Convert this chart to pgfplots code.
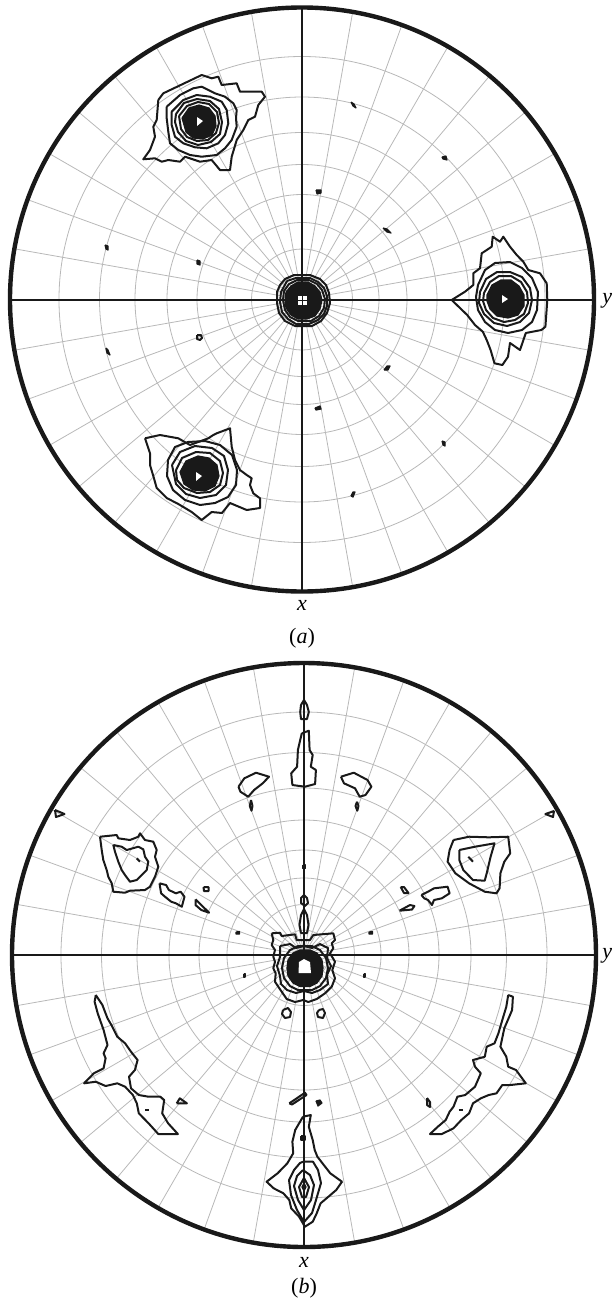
\documentclass[border=0pt]{standalone}
\usepackage{pgfplots}
\pgfplotsset{compat=1.18}
\usepgfplotslibrary{polar}
\usepackage{fontspec}
\setmainfont{Liberation Serif}
\pgfplotsset{
  ct/.style={black!90, line width=1pt, line join=round, mark=none},
  fl/.style={black!90, fill=black!90, line width=0.6pt, line join=round, mark=none},
  wf/.style={draw=none, fill=white, mark=none},
  ax/.style={black!90, line width=1pt, mark=none},
  pgrid/.style={
    anchor=center, scale only axis, width=292pt, height=292pt,
    xmin=0, xmax=360, ymin=0, ymax=292,
    xtick={0,10,...,350},
    ytick={25,50.5,77,105,135,167,202.5,243},
    xticklabels={}, yticklabels={},
    major tick length=0pt,
    grid=major,
    major grid style={black!28, line width=0.4pt},
    x axis line style={line width=2.2pt, black!90},
    y axis line style={draw=none},
  },
  dax/.style={anchor=center, scale only axis, width=292pt, height=292pt,
    y dir=reverse, hide axis, clip=false},
}
\begin{document}
\begin{tikzpicture}
% ---------------- (a) ----------------
\begin{polaraxis}[pgrid, at={(151pt,-149.75pt)}]
\end{polaraxis}
\begin{axis}[dax, at={(151pt,-149.75pt)}, xmin=10, xmax=594, ymin=7.5, ymax=591.5]
\addplot[ax] coordinates {(10,299.5) (596,299.5)};
\addplot[ax] coordinates {(302,7.5) (302,591.5)};
% top-left pole
\addplot[ct] coordinates {(158.3,100) (163.3,93.3) (201.7,75) (211.7,78.3) (218.3,76.7) (221.7,85) (236.7,83.3) (240,91.7) (261.7,91.7) (265,96.7) (258.3,105) (255,116.7) (248.3,120) (243.3,130) (236.7,140) (231.7,156.7) (230,170) (220,170) (211.7,160) (200,161.7) (185,156.7) (180,161.7) (168.3,160) (161.7,161.7) (155,158.3) (143.3,159.3) (150,150) (155,136.7) (153.3,126.7) (156.7,120) (158.3,100)};
\addplot[ct] coordinates {(166.7,106.7) (180,95) (193.3,88.3) (201.7,86.7) (215,93.3) (225,96.7) (233.3,103.3) (236.7,110) (236,118.3) (236.7,126.7) (231.7,140) (225,148.3) (216.7,155) (201.7,156.7) (190,155) (178.3,150) (170,143.3) (168.3,131.7) (166.7,118.3) (166.7,106.7)};
\addplot[ct] coordinates {(171.7,111.7) (183.3,100) (196.7,95) (210,96.7) (221.7,101.7) (226.7,110) (228.3,123.3) (225,135) (218.3,143.3) (206.7,148.3) (195,147.3) (183.3,143.3) (175,136.7) (171.7,125) (171.7,111.7)};
\addplot[ct] coordinates {(176,114) (184,103) (197,99) (210,101) (219,109) (222,122) (220,134) (211,142) (198,145) (186,141) (178,132) (175,122) (176,114)};
\addplot[ct] coordinates {(179,116) (187,106) (198,102) (209,104) (217,112) (219,123) (216,133) (208,140) (197,141) (187,137) (181,129) (179,116)};
\addplot[fl] coordinates {(182,118) (189,108) (199,105) (209,108) (215,116) (216,126) (212,135) (203,139) (193,138) (186,132) (182,118)};
\addplot[wf] coordinates {(197,117) (203,121) (197,126) (197,117)};
% right pole
\addplot[ct] coordinates {(451.7,300) (465,291.7) (473.3,285) (473.3,273.3) (480,268.3) (481.7,253.3) (491.7,246.7) (492.7,236.7) (500,241.7) (503.3,236.7) (510,246.7) (516.7,255) (523.3,261.7) (528.3,270) (540,273.3) (546.7,283.3) (547.3,300) (545.4,326.7) (541.4,330) (525.8,333) (520,350) (510,343) (508,356.7) (502.4,365) (494.5,363.3) (490.6,350) (486.7,340) (482.8,331.7) (475,325) (467.2,315) (451.7,300)};
\addplot[ct] coordinates {(478,285) (485,270) (495,263) (510,262) (522,268) (532,278) (538,292) (537,310) (532,322) (522,330) (508,333) (495,330) (485,322) (478,310) (476,297) (478,285)};
\addplot[ct] coordinates {(480,292) (486,279) (497,272) (510,272) (522,277) (530,288) (532,300) (529,313) (520,322) (507,326) (494,323) (484,314) (479,303) (480,292)};
\addplot[ct] coordinates {(484,293) (490,282) (499,276) (511,276) (521,282) (527,292) (528,303) (524,314) (515,320) (504,322) (493,318) (486,310) (483,301) (484,293)};
\addplot[fl] coordinates {(487,295) (492,285) (501,280) (511,280) (519,286) (524,295) (524,306) (518,315) (508,318) (497,316) (490,309) (487,301) (487,295)};
\addplot[wf] coordinates {(502,295) (508,299) (502,303) (502,295)};
% bottom-left pole
\addplot[ct] coordinates {(145,438.3) (160,435) (178.3,438.3) (190,445) (208.3,438.3) (213.3,435) (216.7,433.3) (230,428.3) (231.7,446.7) (235,460) (240,470) (246.7,475) (251.7,478.3) (250,485) (253.3,493.3) (260,498.3) (260,508) (246.7,510) (230,503) (222,513) (211.7,512) (201.7,520) (191.7,512) (178.3,504) (166.7,498) (156.7,488) (153.3,476) (150,465) (150,453.3) (145,438.3)};
\addplot[ct] coordinates {(168,460) (175,447) (188,442) (205,441) (220,445) (232,455) (237,470) (236,485) (228,497) (215,503) (200,505) (185,500) (173,490) (167,476) (168,460)};
\addplot[ct] coordinates {(172,465) (180,452) (195,446) (212,448) (224,456) (228,470) (226,485) (216,495) (200,498) (186,494) (176,484) (172,465)};
\addplot[ct] coordinates {(176,470) (182,458) (196,452) (210,453) (220,461) (223,473) (220,485) (210,492) (197,493) (184,488) (177,480) (176,470)};
\addplot[fl] coordinates {(180,472) (186,461) (198,456) (209,458) (217,465) (219,476) (215,486) (205,491) (193,490) (184,484) (180,472)};
\addplot[wf] coordinates {(196,472) (202,476) (196,481) (196,472)};
% centre
\addplot[ct] coordinates {(285,279) (294,275) (310,275) (320,279) (326,285) (329,293) (330,303) (327,313) (321,321) (312,326) (295,326) (285,321) (279,313) (277,303) (277,292) (280,285) (285,279)};
\addplot[ct] coordinates {(287,281) (296,278) (310,278) (318,282) (324,288) (327,296) (327,306) (324,314) (318,320) (309,324) (296,324) (288,319) (282,312) (280,302) (281,292) (287,281)};
\addplot[ct] coordinates {(289,284) (297,280) (309,280) (317,284) (322,290) (325,299) (324,308) (319,316) (311,321) (298,321) (290,317) (285,310) (283,300) (284,291) (289,284)};
\addplot[fl] coordinates {(291,286) (298,282) (308,282) (315,286) (320,292) (322,300) (320,309) (315,316) (307,319) (298,319) (291,315) (286,308) (285,300) (286,292) (291,286)};
\addplot[only marks, mark=square*, mark size=0.7pt, white] coordinates {(299.5,297.5) (304.5,297.5) (299.5,302.5) (304.5,302.5)};
% specks
\addplot[fl] coordinates {(351,102) (354,104) (356,108) (353,106) (351,102)};
\addplot[fl] coordinates {(442,157) (446,156) (447,160) (443,159) (442,157)};
\addplot[fl] coordinates {(316,190) (321,190) (321,193) (317,194) (316,190)};
\addplot[fl] coordinates {(383,228) (387,229) (391,233) (387,232) (383,228)};
\addplot[fl] coordinates {(105,245) (108,246) (108,250) (106,249) (105,245)};
\addplot[fl] coordinates {(197,260) (200,261) (200,265) (197,264) (197,260)};
\addplot[ct] coordinates {(197,335) (201,335) (202,338) (200,340) (197,339) (197,335)};
\addplot[fl] coordinates {(106,348) (108,350) (110,355) (107,353) (106,348)};
\addplot[fl] coordinates {(384,370) (387,366) (390,366) (388,370) (384,370)};
\addplot[fl] coordinates {(315,408) (320,406) (321,409) (316,410) (315,408)};
\addplot[fl] coordinates {(442,441) (445,442) (445,446) (443,445) (442,441)};
\addplot[fl] coordinates {(351,496) (353,492) (355,492) (353,497) (351,496)};
\end{axis}
% ---------------- (b) ----------------
\begin{polaraxis}[pgrid, at={(152pt,-477.5pt)}]
\end{polaraxis}
\begin{axis}[dax, at={(152pt,-477.5pt)}, xmin=12, xmax=596, ymin=663, ymax=1247]
\addplot[ax] coordinates {(12,955) (597,955)};
\addplot[ax] coordinates {(304,663) (304,1247)};
% upper axis blobs
\addplot[ct] coordinates {(304,700) (307,705) (308.8,712) (307,719) (301,719) (300.2,712) (301,705) (304,700)};
\addplot[ct] coordinates {(301.8,733.3) (308.8,730.7) (309.6,750) (312.7,755) (310.8,766.7) (315.9,770) (315.1,784) (304.9,786.7) (292.4,785) (291.2,773.3) (297.1,766.7) (297.9,750) (300.2,740) (301.8,733.3)};
\addplot[ct] coordinates {(238.5,786.7) (244.3,778.3) (256,772.7) (269,776.7) (262.7,783.3) (254.1,790) (248.2,796.7) (240.4,791.7) (238.5,786.7)};
\addplot[ct] coordinates {(251,800) (252.5,806) (251.5,810.7) (249.8,806) (251,800)};
\addplot[ct] coordinates {(340.9,776.7) (353.8,772.7) (367.5,780) (371.4,786.7) (365.5,795) (359.7,796.7) (355,788.3) (344,783.3) (340.9,776.7)};
\addplot[ct] coordinates {(357,801.7) (358.5,806) (357.3,810.7) (355.5,806) (357,801.7)};
% left upper blob
\addplot[ct] coordinates {(100,836.7) (116.7,835) (118.3,838.3) (130,840) (138.3,836.7) (140,833.3) (145,840) (153.3,841.7) (156.7,850) (155,856.7) (158.3,866.7) (155,876.7) (150,886.7) (145,890) (130,890.7) (125,892.7) (113.3,891.7) (111.7,883.3) (108.3,876.7) (106.7,870) (103.3,860) (101.7,850) (100,836.7)};
\addplot[ct] coordinates {(113.3,845) (121.7,846.7) (126.7,850) (138.3,846.7) (143.3,849.3) (145,856.7) (148.3,861.7) (146.7,870) (140,876.7) (136.7,880) (130,881.7) (125,875) (121.7,870) (118.3,861.7) (115,851.7) (113.3,845)};
\addplot[ct] coordinates {(136.7,858.3) (140,861.7)};
% right upper blob
\addplot[ct] coordinates {(453.5,840) (469.1,836.7) (488.7,837.3) (508.2,836.7) (510.2,853.3) (504.3,861.7) (500.4,873.3) (499.6,888.3) (496.5,893.3) (484.8,891.7) (469.1,883.3) (455.4,873.3) (447.6,861.7) (449.6,850) (453.5,840)};
\addplot[ct] coordinates {(459.3,850) (475,846.7) (494.5,843.3) (490.6,856.7) (486.7,873.3) (484.7,880.7) (473,880) (463.3,870) (459.3,860) (459.3,850)};
\addplot[ct] coordinates {(468.3,856.7) (473,861.7)};
% small blobs near the upper blobs
\addplot[ct] coordinates {(159.5,883.3) (166.1,885) (168.9,890) (175.9,893.3) (180.6,891.7) (184.5,896.7) (181.8,906.7) (175.9,903.3) (171.2,901.7) (165,896.7) (161.1,893.3) (159.5,883.3)};
\addplot[ct] coordinates {(203.5,887) (208.5,887) (208.5,891) (204,891) (203.5,887)};
\addplot[ct] coordinates {(195.5,899.3) (201.3,905) (209.1,912.7) (201.3,910) (195.5,905) (195.5,899.3)};
\addplot[ct] coordinates {(400.7,887) (404,887) (408.5,893) (404,893) (400.7,887)};
\addplot[ct] coordinates {(399.5,910.7) (410,905) (414.4,906) (412,909.5) (399.5,910.7)};
\addplot[ct] coordinates {(421.4,895) (428,891.7) (434,888.3) (447.6,886.7) (449.6,893.3) (441.8,898.3) (434,900) (432,905) (428,900) (424.2,898.3) (421.4,895)};
\addplot[ct] coordinates {(55,810) (64.5,814) (56,817) (55,810)};
\addplot[ct] coordinates {(554,811) (545.4,814) (553,817) (554,811)};
\addplot[fl] coordinates {(236,932) (239.5,931.5) (239.5,934) (236,934) (236,932)};
\addplot[fl] coordinates {(369,932) (372.5,931.5) (372.5,934) (369,934) (369,932)};
\addplot[fl] coordinates {(243.5,973.5) (245,973.5) (245,977) (243.5,977) (243.5,973.5)};
\addplot[fl] coordinates {(363.5,973.5) (365,973.5) (365,977) (363.5,977) (363.5,973.5)};
\addplot[fl] coordinates {(302.5,865) (305.5,865) (305.5,868.5) (302.5,868.5) (302.5,865)};
% centre
\addplot[ct] coordinates {(304,895) (307,898) (308,903) (305,906) (301,903) (301,898) (304,895)};
\addplot[ct] coordinates {(304,909) (307,915) (308.5,925) (307,933) (301,933) (299.5,925) (301,915) (304,909)};
\addplot[ct] coordinates {(271.7,933.3) (280,932.7) (281.7,936) (295,934.3) (296.7,940) (310,940) (313.3,935) (333.3,933.3) (335,940) (331.7,943.3) (333.3,948.3) (330,953.3) (335,961.7) (332.3,970) (335,978.3) (331.7,986.7) (325,993.3) (316.7,999) (308.3,1002) (303.3,1000) (295,1002) (286.7,999) (281.7,991.7) (278.3,986.7) (275,981.7) (275.7,973.3) (273.3,968.3) (275,961.7) (273.3,956.7) (275,950) (271.7,945) (273.3,940) (271.7,933.3)};
\addplot[ct] coordinates {(280,946) (290,944) (296,948) (304,946) (312,948) (320,944) (328,948) (327,958) (331,966) (327,975) (328,984) (320,990) (312,993) (304,991) (296,993) (287,990) (281,984) (280,976) (277,966) (280,957) (280,946)};
\addplot[ct] coordinates {(290,950) (298,946) (312,946) (320,950) (326,958) (328,968) (326,978) (320,986) (312,990) (298,990) (290,986) (284,978) (282,968) (284,958) (290,950)};
\addplot[fl] coordinates {(293,953) (300,950) (310,950) (317,953) (322,960) (323,968) (322,976) (317,983) (310,986.5) (300,986.5) (293,983) (288,976) (287,968) (288,960) (293,953)};
\addplot[wf] coordinates {(299,962) (304,959) (310,962) (311,973) (298.5,973) (299,962)};
\addplot[ct] coordinates {(283,1010) (288,1008) (291,1012) (290,1017) (285,1018) (282,1014) (283,1010)};
\addplot[ct] coordinates {(319,1010) (323,1009) (325,1013) (323,1018) (318,1017) (317,1013) (319,1010)};
% lower axis
\addplot[ct] coordinates {(289.3,1103.3) (305,1092.7) (306.5,1095) (292,1104.5) (289.3,1103.3)};
\addplot[fl] coordinates {(316,1101) (320,1100) (322,1103) (318,1106) (316,1101)};
\addplot[ct] coordinates {(303,1116.7) (310.8,1115) (308.8,1126.7) (312.7,1140) (314.7,1150) (317.4,1156.7) (322.5,1163.3) (330.3,1173.3) (342,1181.7) (336.2,1190) (328.4,1196.7) (320.6,1203.3) (316.7,1213.3) (312.7,1221.7) (304.9,1226.7) (299.1,1216.7) (291.2,1208.3) (289.3,1200) (283.4,1193.3) (273.7,1188.3) (266.6,1181.7) (277.6,1173.3) (287.3,1163.3) (293.2,1153.3) (292.4,1141.7) (295.2,1130) (299.1,1123.3) (303,1116.7)};
\addplot[ct] coordinates {(303,1161.7) (313,1161.7) (318,1170) (321,1183) (316,1200) (312,1213) (304,1222) (297,1210) (291,1195) (289,1180) (294,1170) (300,1163) (303,1161.7)};
\addplot[ct] coordinates {(303,1170) (310,1175) (314,1185) (311,1200) (304,1210) (298,1200) (294,1186) (297,1176) (303,1170)};
\addplot[ct] coordinates {(304,1178) (309,1187) (306,1197) (302,1197) (299,1187) (304,1178)};
\addplot[fl] coordinates {(304,1183) (306,1187) (304,1191) (302,1187) (304,1183)};
\addplot[fl] coordinates {(301,1136) (305,1136) (305,1140) (301,1140) (301,1136)};
% left lower blob
\addplot[ct] coordinates {(95.8,995) (102.4,1005) (107.5,1018.3) (111.4,1025) (117.3,1036.7) (125.1,1043.3) (131,1051.7) (137.6,1060) (134.9,1070) (129,1076.7) (131,1088.3) (138.8,1095) (148.6,1096.7) (160.3,1096.7) (164.2,1100) (162.2,1113.3) (168.1,1123.3) (177.9,1134) (158.3,1134) (148.6,1123.3) (138.8,1113.3) (136.8,1103.3) (132.9,1095) (125.1,1086.7) (117.3,1083.3) (105.6,1086) (95.8,1081.7) (84.1,1083.3) (93.8,1073.3) (103.6,1068.3) (105.6,1058.3) (103.6,1053.3) (107.5,1045) (103.6,1030) (97.7,1013.3) (94.6,1001.7) (95.8,995)};
\addplot[ct] coordinates {(145,1110) (149,1110)};
\addplot[ct] coordinates {(176.7,1103.3) (179.8,1098.3) (186.9,1103.3) (176.7,1103.3)};
% right lower blob
\addplot[ct] coordinates {(508.2,995) (512.9,996.7) (512.1,1010) (504.3,1028.3) (500.4,1046.7) (506.3,1056.7) (508.2,1066.7) (516,1070) (525.8,1083.3) (510.2,1085) (502.3,1085) (496.5,1093.3) (488.7,1095) (480.8,1098.3) (473,1103.3) (469.1,1113.3) (461.3,1120) (453.5,1128.3) (441.8,1134) (430,1134) (437.8,1126.7) (445.7,1120) (449.6,1111.7) (453.5,1106.7) (457.4,1096.7) (465.2,1095) (475,1086.7) (480.8,1073.3) (475,1066.7) (473,1060) (484.8,1056.7) (486.7,1046.7) (494.5,1043.3) (498.4,1033.3) (502.3,1020) (506.3,1006.7) (508.2,995)};
\addplot[ct] coordinates {(458.5,1110) (462.5,1110)};
\addplot[ct] coordinates {(427,1098) (430,1102) (430,1107) (427,1105) (427,1098)};
\end{axis}
% labels
\node[font=\itshape\fontsize{11}{13}\selectfont] at (151pt,-302.5pt) {x};
\node[font=\fontsize{11}{13}\selectfont] at (151pt,-319pt) {(\textit{a})};
\node[font=\itshape\fontsize{11}{13}\selectfont, anchor=east, inner sep=0pt] at (306.3pt,-150.5pt) {y};
\node[font=\itshape\fontsize{11}{13}\selectfont] at (152pt,-631pt) {x};
\node[font=\fontsize{11}{13}\selectfont] at (152pt,-644pt) {(\textit{b})};
\node[font=\itshape\fontsize{11}{13}\selectfont, anchor=east, inner sep=0pt] at (306.3pt,-478pt) {y};
\pgfresetboundingbox
\path (0pt,0pt) rectangle (306.5pt,-649.5pt);
\end{tikzpicture}
\end{document}
